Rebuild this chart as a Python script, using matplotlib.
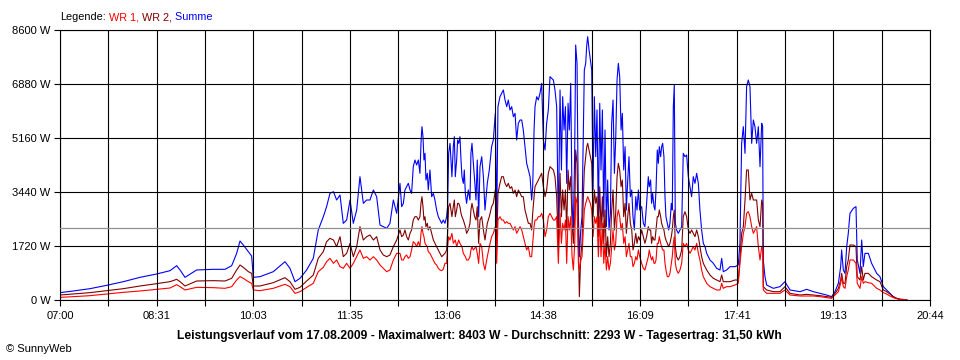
import matplotlib
matplotlib.use("Agg")
import matplotlib.pyplot as plt
import numpy as np

plt.rcParams['font.family'] = ['Liberation Sans', 'DejaVu Sans']

# minutes after 07:00
minutes = [
    0.0, 12.6, 28.4, 44.2, 60.0, 75.8, 91.5, 104.2, 110.5, 113.7, 118.4, 129.4, 145.2, 156.3,
    162.6, 167.3, 170.5, 173.6, 178.4, 181.5, 183.1, 189.4, 202.0, 213.1, 217.8, 222.6, 227.3,
    233.6, 239.9, 244.6, 249.4, 252.5, 255.7,
    259.0, 262.0, 265.2, 268.3, 271.5, 274.7, 277.8, 281.0, 284.1, 287.3, 290.4, 293.6, 296.8,
    299.9, 303.1, 306.2, 309.4, 312.5, 315.7, 318.9,
    322.0, 323.6, 325.2, 326.7, 328.3, 329.9, 331.5, 333.0, 334.6, 336.2, 337.8, 339.4, 340.9,
    341.9, 342.8, 343.8, 344.7, 345.7, 346.6, 347.9, 348.8, 350.4, 352.0, 353.6, 355.1, 356.7,
    358.3, 359.9, 361.5, 363.0, 364.6, 366.2, 367.1, 368.1, 369.4, 370.3, 371.2, 372.5, 373.5,
    374.4, 375.7, 376.6, 377.6, 378.8, 379.8, 380.7, 382.0, 382.9, 383.9, 385.1, 386.7, 388.3,
    389.2, 390.2, 391.5, 392.7, 394.0, 395.2, 396.5,
    397.8, 399.4, 401.0, 402.5, 404.7, 406.6, 408.8, 410.4, 412.3, 413.6, 414.8, 416.7, 418.3,
    419.9, 421.5, 423.1, 424.6, 426.2, 427.8, 429.4, 431.0, 432.5, 434.1, 435.7, 437.3, 438.8,
    440.4, 442.0, 443.6, 445.2, 446.7, 447.7, 449.0, 449.9, 451.5, 453.0, 454.6, 456.2, 457.8,
    459.4, 460.9, 462.5, 464.1, 465.7, 467.3, 468.8, 470.4, 472.0, 473.6,
    474.9, 476.1, 477.4, 478.7, 479.9, 481.2, 482.4, 483.7, 485.0, 486.2, 487.5, 488.4, 489.7,
    491.0, 491.9, 493.2, 494.4, 495.7, 496.6, 497.9, 498.9, 499.8, 501.1, 502.3, 503.6, 504.9,
    506.1, 507.4, 508.6, 509.9, 511.2, 512.4, 513.7, 515.0, 516.2, 517.5, 518.7, 520.0, 521.3,
    522.5, 523.8, 525.1, 526.3, 527.6, 528.8, 530.1, 531.4, 532.6, 533.9, 535.2, 536.4, 537.7,
    538.9, 540.2, 541.5, 542.7, 544.0, 545.3, 546.5, 547.8, 549.1,
    550.9, 552.5, 554.0, 555.6, 557.2, 558.1, 559.4, 560.3, 561.3, 562.6, 563.5, 564.5, 565.7,
    566.7, 567.6, 568.9, 569.8, 570.8, 572.0, 573.0, 573.9, 575.2, 576.5, 577.7, 579.0, 579.9,
    580.9, 581.8, 582.8, 584.0, 585.6, 587.2, 588.8, 590.3, 591.9, 593.5, 595.1, 596.7, 598.2,
    599.8, 601.4, 603.0, 604.6, 606.1, 607.7, 609.3, 610.9, 612.5, 615.6, 618.8, 621.9, 625.1,
    626.7, 628.2, 631.4, 634.6, 639.3, 642.4, 644.0, 645.6, 647.2, 648.8, 650.3, 651.9, 653.5,
    655.1, 656.7, 658.2, 659.8, 661.4, 663.0, 664.6, 665.5, 666.1, 667.7, 669.3, 675.6, 681.9,
    686.6, 691.4, 700.9, 707.2, 713.5, 719.8, 726.1, 730.8, 734.0, 737.2, 739.4, 740.3, 741.9,
    743.5, 745.1, 746.6, 748.2, 751.4, 753.9, 755.1, 757.7, 759.3, 760.8, 762.4, 765.6, 768.7,
    773.5, 776.6, 779.8, 782.9, 786.1, 789.2, 792.4, 795.6, 801.9,
]

summe = [
    234, 287, 361, 467, 584, 722, 828, 934, 1093, 956, 722, 956, 977, 977,
    1093, 1486, 1879, 1752, 1539, 1401, 722, 743, 902, 1221, 1009, 584, 690,
    956, 1327, 2230, 2654, 2973, 3397,
    3450, 3185, 3344, 2442, 2548, 3185, 2442, 2867, 3928, 3079, 3185, 3185, 3504,
    3291, 2389, 2336, 2283, 2442, 3185, 2760,
    3716, 2973, 3079, 3504, 3610, 3716, 3504, 3397, 4247, 4459, 4300, 4459, 4034,
    4990, 5521, 5202, 4459, 4671, 3822, 4034, 3504, 4141, 3291, 3397, 3185, 2867,
    2654, 2548, 2442, 2548, 2442, 2654, 2973, 4671, 4990, 4459, 3928, 4884, 5202,
    3928, 4459, 5096, 4990, 5202, 4459, 3928, 3716, 4141, 3397, 3079, 3504, 3185,
    4671, 4990, 4353, 3822, 3185, 4459, 2654,
    4247, 4565, 3928, 2867, 3716, 4141, 4884, 5096, 5946, 2442, 6158, 6476, 6582,
    6689, 6370, 6158, 6370, 6052, 6158, 5839, 5946, 5096, 5627, 5733, 5733, 5415,
    4884, 4353, 4141, 3928, 3185, 3610, 5415, 6158, 6476, 6370, 6582, 6901, 5096,
    4778, 5627, 6052, 7113, 7060, 7007, 6689, 6158, 2336, 6689,
    4141, 6476, 5415, 6158, 3716, 6264, 5415, 6901, 3079, 2230, 4778, 8122, 7538,
    2654, 1380, 2230, 2654, 5415, 7326, 7538, 8122, 8387, 7963, 7644, 7326, 3504,
    6476, 4565, 6052, 2654, 6264, 4141, 6052, 2654, 5415, 2336, 3822, 2230, 2760,
    5627, 6370, 4034, 5096, 7007, 7538, 7113, 5415, 5946, 4141, 4884, 2867, 3822,
    4565, 3291, 3504, 2654, 2230, 3291, 2867, 3504, 2867,
    2973, 2442, 2336, 3079, 3928, 3610, 3822, 3079, 3397, 2973, 2867, 3504, 4778,
    4353, 4884, 4565, 4884, 4990, 4565, 3291, 2654, 2442, 2230, 2442, 3079, 2867,
    6158, 6848, 2442, 2230, 2123, 2230, 2336, 4671, 4565, 4618, 3928, 3610, 3291,
    3928, 3716, 4034, 3716, 2867, 2230, 1805, 1699, 1486, 1274, 1168, 1009, 956,
    1327, 902, 956, 1062, 1062, 1115, 1805, 4990, 5521, 4671, 6795, 7007, 6795,
    4990, 5733, 5521, 4990, 5521, 4247, 5627, 5521, 1274, 743, 478, 372, 425,
    584, 319, 265, 340, 265, 212, 159, 106, 265, 531, 1062, 1593, 956,
    849, 1699, 2123, 2760, 2920, 2973, 1274, 849, 1911, 1062, 1486, 1486, 1168,
    849, 743, 425, 319, 212, 106, 53, 21, 11,
]

wr2 = [
    159, 191, 234, 297, 361, 446, 520, 584, 658, 584, 446, 605, 616, 605,
    690, 956, 1115, 1040, 902, 849, 446, 446, 552, 711, 584, 340, 403,
    605, 796, 1327, 1540, 1858, 1964,
    1911, 1699, 2017, 1380, 1486, 1805, 1380, 1699, 2336, 1911, 2017, 2070, 1911,
    2017, 1593, 1433, 1380, 1433, 1699, 1911,
    2230, 2017, 2070, 2230, 2017, 1911, 2123, 2230, 2548, 2654, 2654, 2548, 2654,
    3079, 3291, 2973, 2548, 2654, 2336, 2442, 2230, 2336, 2123, 1911, 1805, 1699,
    1593, 1486, 1380, 1433, 1486, 1593, 2123, 2973, 3079, 2867, 2654, 2973, 3185,
    2654, 2867, 3079, 3079, 2973, 2760, 2654, 2548, 2442, 2336, 2123, 2230, 2442,
    2867, 3079, 2867, 2654, 2548, 2973, 1805,
    2548, 2654, 2230, 1911, 2442, 2654, 2973, 3079, 3504, 1593, 3397, 3716, 3928,
    3928, 3716, 3610, 3716, 3557, 3610, 3397, 3504, 3291, 3504, 3397, 3291, 3291,
    2867, 2654, 2442, 2442, 2230, 2760, 3291, 3610, 3716, 3822, 3928, 4034, 3610,
    3291, 3504, 4034, 4247, 4194, 4141, 3928, 3291, 1699, 4034,
    2654, 3504, 2867, 3504, 2230, 4141, 3504, 3928, 2442, 1805, 2654, 4778, 4353,
    1805, 106, 1380, 1805, 3291, 4141, 4565, 4884, 4990, 4778, 4565, 4353, 2654,
    3504, 3079, 3291, 2017, 3610, 2230, 3291, 1805, 2867, 1380, 2017, 1380, 1805,
    2867, 3504, 2230, 2760, 3928, 4353, 4141, 3610, 3822, 2654, 3079, 2123, 2654,
    3079, 2442, 2230, 1593, 1805, 2123, 1805, 2017, 1911,
    2230, 2017, 1805, 2017, 2336, 2230, 2230, 1805, 2017, 1911, 1911, 2230, 2654,
    2654, 2867, 2654, 2442, 2336, 2230, 2017, 1911, 1805, 1699, 1805, 2017, 2230,
    2654, 2867, 1699, 1380, 1274, 1380, 1593, 2654, 2813, 2654, 2230, 2123, 2230,
    2123, 2017, 2230, 2017, 1699, 1380, 1168, 1062, 956, 796, 690, 637, 584,
    796, 584, 584, 584, 637, 637, 1274, 2123, 2336, 3185, 4141, 4141, 3185,
    3397, 3185, 3185, 3185, 2548, 2336, 3185, 3079, 425, 372, 319, 265, 265,
    425, 212, 159, 180, 159, 138, 106, 85, 212, 372, 637, 849, 531,
    531, 1062, 1274, 1752, 1752, 1699, 743, 637, 1062, 637, 849, 849, 743,
    637, 584, 319, 265, 191, 106, 53, 21, 11,
]

wr1 = [
    85, 106, 138, 191, 244, 287, 340, 382, 488, 425, 319, 403, 393, 372,
    425, 637, 743, 690, 584, 531, 319, 297, 372, 499, 425, 212, 265,
    403, 531, 902, 1040, 1221, 1327,
    1168, 1274, 1062, 1009, 1168, 1009, 1168, 1380, 1593, 1327, 1380, 1274, 1380,
    1274, 1115, 1009, 902, 956, 1274, 1486,
    1486, 1274, 1274, 1380, 1433, 1327, 1380, 1593, 1858, 1805, 1699, 1858, 1699,
    2123, 2336, 2123, 2017, 1805, 1752, 1699, 1539, 1486, 1380, 1274, 1168, 1115,
    1009, 956, 934, 977, 1168, 1168, 1699, 2017, 1911, 2017, 2123, 1805, 1858,
    1911, 1699, 1805, 1911, 1805, 1752, 1699, 1486, 1433, 1380, 1274, 1274, 1380,
    1593, 1699, 1593, 1646, 1699, 1486, 1168,
    1805, 1699, 1168, 956, 1380, 1699, 2017, 2123, 2336, 1168, 2548, 2654, 2548,
    2548, 2442, 2495, 2442, 2442, 2336, 2230, 2336, 2123, 2230, 2336, 2230, 2017,
    1805, 1593, 1699, 1380, 1380, 1805, 2336, 2548, 2548, 2654, 2654, 2760, 2548,
    2017, 2230, 2654, 2760, 2654, 2548, 2548, 2654, 1168, 2760,
    1805, 2442, 2230, 2548, 1168, 2654, 2230, 2654, 1380, 956, 1805, 3291, 3079,
    1168, 956, 1274, 1380, 2230, 2867, 3079, 3185, 3291, 3185, 3079, 2867, 2017,
    2654, 2442, 2654, 1380, 2654, 1380, 2442, 1168, 1805, 956, 1380, 956, 1168,
    1699, 2230, 1593, 1805, 2654, 2867, 2654, 2230, 2442, 1805, 2017, 1380, 1593,
    1805, 1380, 1380, 1062, 1168, 1380, 1274, 1593, 1380,
    1168, 1009, 956, 1168, 1380, 1593, 1380, 1274, 1380, 1168, 1168, 1274, 1805,
    1805, 2017, 1805, 1699, 1593, 1593, 1168, 956, 743, 743, 849, 1168, 1380,
    1805, 2017, 1168, 956, 849, 956, 1168, 1805, 1699, 1805, 1593, 1486, 1593,
    1699, 1593, 1805, 1486, 1274, 956, 743, 637, 531, 425, 372, 319, 319,
    531, 372, 425, 425, 478, 531, 1168, 1699, 2123, 2336, 2760, 2813, 2654,
    2336, 2123, 2230, 2336, 1699, 1274, 1699, 1593, 319, 265, 212, 212, 212,
    319, 159, 127, 127, 127, 106, 74, 53, 159, 265, 531, 743, 425,
    372, 743, 956, 1274, 1274, 1168, 531, 372, 743, 531, 584, 552, 531,
    372, 319, 234, 191, 127, 74, 42, 21, 11,
]

average = 2293
x_labels = ['07:00', '08:31', '10:03', '11:35', '13:06', '14:38', '16:09', '17:41', '19:13', '20:44']
y_values = [0, 1720, 3440, 5160, 6880, 8600]

fig = plt.figure(figsize=(9.6, 3.6), dpi=100)
ax = fig.add_axes([60 / 960, 60 / 360, 870 / 960, 270 / 360])

ax.plot(minutes, summe, color='#0000ff', lw=0.8, zorder=2)
ax.plot(minutes, wr2, color='#800000', lw=0.8, zorder=2.1)
ax.plot(minutes, wr1, color='#ff0000', lw=0.8, zorder=2.2)

ax.set_xlim(0, 824)
ax.set_ylim(0, 8600)

ticks = np.linspace(0, 824, 19)
ax.set_xticks(ticks)
ax.set_xticklabels([x_labels[i // 2] if i % 2 == 0 else '' for i in range(19)])
ax.set_yticks(y_values)
ax.set_yticklabels([f'{v} W' for v in y_values])

ax.set_axisbelow(False)
ax.grid(True, color='black', lw=0.8)
ax.axhline(average, color='#909090', lw=0.9, zorder=2.6)

ax.tick_params(direction='out', length=4, width=0.8, labelsize=8, colors='black')
ax.tick_params(axis='x', pad=4)
ax.tick_params(axis='y', pad=3)
for s in ax.spines.values():
    s.set_linewidth(0.8)
    s.set_color('black')

# multicoloured legend line at the top
t = fig.text(60 / 960, (360 - 20) / 360, 'Legende:', fontsize=7.8, va='baseline')
for txt, col in [(' WR 1,', '#ff0000'), (' WR 2,', '#800000'), (' Summe', '#0000ff')]:
    t = ax.annotate(txt, xy=(1, 0), xycoords=t, va='bottom', ha='left',
                    fontsize=7.8, color=col, annotation_clip=False)

fig.text(0.4995, (360 - 336) / 360, 'Leistungsverlauf vom 17.08.2009 - Maximalwert: 8403 W - '
         'Durchschnitt: 2293 W - Tagesertrag: 31,50 kWh', ha='center', va='center',
         fontsize=8.7, fontweight='bold')
fig.text(6 / 960, (360 - 349) / 360, '© SunnyWeb', ha='left', va='center', fontsize=8)

fig.savefig('out.png', dpi=100)
plt.close()
